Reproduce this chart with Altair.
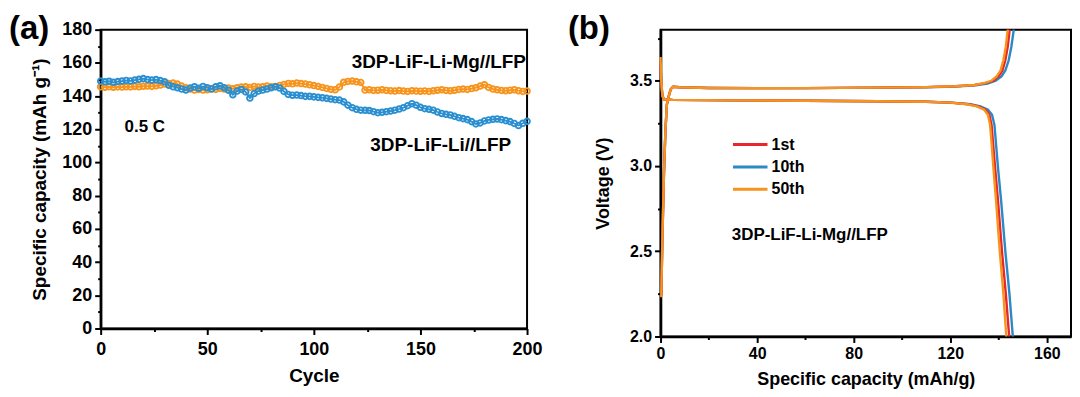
import altair as alt
import pandas as pd

# ---------------- panel (a) data ----------------
cycles = list(range(0, 201, 2))
cap_li = [
    149.0, 148.6, 148.9, 148.3, 148.7, 149.0, 149.4, 149.1, 149.6, 150.1,
    150.5, 149.9, 149.6, 149.9, 149.3, 148.6, 146.5, 145.6, 145.0, 144.2,
    143.6, 144.8, 145.6, 144.7, 145.8, 145.0, 144.2, 145.6, 146.2, 145.0,
    143.5, 140.8, 143.0, 144.0, 142.5, 138.8, 141.5, 143.0, 143.6, 144.2,
    145.0, 145.6, 144.8, 142.8, 141.0, 140.5, 140.6, 140.3, 139.8, 139.8,
    139.5, 139.2, 139.0, 138.6, 138.2, 137.8, 137.6, 136.5, 134.5, 133.0,
    132.0, 131.5, 131.4, 131.3, 130.6, 130.0, 130.2, 130.6, 131.0, 131.5,
    132.2, 133.0, 134.2, 135.4, 134.5, 133.2, 132.4, 132.0, 131.5, 130.4,
    129.5, 129.0, 128.6, 127.8, 127.0, 126.4, 125.8, 124.6, 123.2, 123.8,
    125.0, 125.6, 126.0, 126.2, 125.8, 125.2, 124.6, 123.5, 122.2, 123.6,
    124.8,
]
cap_mg = [
    145.6, 145.3, 145.6, 145.3, 145.5, 145.4, 145.6, 145.5, 145.8, 145.6,
    145.9, 146.0, 145.8, 146.2, 146.6, 147.2, 147.6, 147.8, 147.2, 146.0,
    145.0, 144.2, 143.6, 144.0, 143.6, 143.8, 144.4, 144.0, 144.6, 144.2,
    144.8, 144.4, 145.0, 145.4, 145.6, 145.2, 145.8, 145.4, 145.6, 146.0,
    145.6, 145.8, 146.4, 147.0, 147.6, 147.4, 147.8, 147.5, 147.2, 146.8,
    146.3, 145.8, 145.2, 144.6, 144.0, 143.8, 145.5, 148.3, 148.8, 149.0,
    148.6, 148.2, 143.6, 143.8, 143.4, 143.5, 143.8, 143.4, 143.2, 143.0,
    143.3, 143.0, 142.8, 143.2, 143.0, 142.9, 143.1, 142.8, 143.2, 143.5,
    143.8, 143.4, 143.2, 143.5, 144.0, 144.2, 144.0, 144.5, 145.0, 146.0,
    146.8, 145.2, 144.2, 143.8, 143.4, 143.2, 143.5, 143.8, 143.2, 142.8,
    143.0,
]
series_a = ["3DP-LiF-Li//LFP", "3DP-LiF-Li-Mg//LFP"]
colors_a = ["#2a8fd0", "#f7941d"]
notes_a = ["3DP-LiF-Li-Mg//LFP", "0.5 C", "3DP-LiF-Li//LFP"]
xa_major = [0, 50, 100, 150, 200]
xa_minor = [25, 75, 125, 175]
ya_major = list(range(0, 181, 20))
ya_minor = list(range(10, 180, 20))

# ---------------- panel (b) data ----------------
legend_b = ["1st", "10th", "50th"]
colors_b = ["#e8262b", "#2a8ac6", "#f7941d"]
note_b = "3DP-LiF-Li-Mg//LFP"
xb_major = [0, 40, 80, 120, 160]
xb_minor = [20, 60, 100, 140]
yb_major = [2.0, 2.5, 3.0, 3.5]
yb_minor = [2.25, 2.75, 3.25, 3.75]

chg_cap_1st = [0.3, 0.8, 1.4, 2.0, 2.6, 3.4, 4.2, 5.2, 8, 20, 40, 60, 90, 110, 122, 130, 134.6, 137.8, 140.0, 141.6, 142.8, 143.8, 144.6]
chg_v_1st = [2.24, 2.6, 2.95, 3.2, 3.36, 3.41, 3.45, 3.465, 3.462, 3.458, 3.457, 3.457, 3.46, 3.463, 3.468, 3.475, 3.486, 3.50, 3.525, 3.56, 3.62, 3.70, 3.80]
dis_cap_1st = [0, 0.3, 0.8, 1.5, 5, 30, 60, 90, 110, 120, 127.6, 131.6, 134.6, 136.2, 137.1, 137.8, 138.5, 139.8, 141.4, 143.0, 144.4]
dis_v_1st = [3.60, 3.48, 3.41, 3.39, 3.388, 3.385, 3.383, 3.38, 3.377, 3.372, 3.362, 3.35, 3.33, 3.30, 3.24, 3.12, 3.0, 2.79, 2.5, 2.25, 2.0]

chg_cap_10th = [0.3, 0.8, 1.4, 2.0, 2.6, 3.4, 4.2, 5.2, 8, 20, 40, 60, 90, 110, 122, 130.5, 135.4, 138.8, 141.2, 142.8, 144.2, 145.3, 146.3]
chg_v_10th = [2.24, 2.6, 2.95, 3.2, 3.36, 3.41, 3.45, 3.465, 3.462, 3.458, 3.457, 3.457, 3.46, 3.462, 3.466, 3.473, 3.484, 3.50, 3.525, 3.56, 3.62, 3.70, 3.80]
dis_cap_10th = [0, 0.3, 0.8, 1.5, 5, 30, 60, 90, 110, 120.5, 128.4, 132.5, 135.6, 137.3, 138.3, 139.0, 139.7, 141.1, 142.8, 144.5, 145.9]
dis_v_10th = [3.60, 3.48, 3.41, 3.39, 3.388, 3.385, 3.383, 3.38, 3.377, 3.372, 3.362, 3.35, 3.33, 3.30, 3.24, 3.12, 3.0, 2.79, 2.5, 2.25, 2.0]

chg_cap_50th = [0.3, 0.8, 1.4, 2.0, 2.6, 3.4, 4.2, 5.2, 8, 20, 40, 60, 90, 110, 122, 130, 134, 137, 139.2, 140.8, 142, 143, 143.8]
chg_v_50th = [2.23, 2.6, 2.95, 3.2, 3.36, 3.41, 3.45, 3.465, 3.462, 3.458, 3.456, 3.457, 3.46, 3.463, 3.468, 3.475, 3.486, 3.50, 3.525, 3.56, 3.62, 3.70, 3.80]
dis_cap_50th = [0, 0.3, 0.8, 1.5, 5, 30, 60, 90, 110, 120, 127, 131, 134, 135.6, 136.5, 137.2, 137.8, 139.0, 140.5, 142.0, 143.2]
dis_v_50th = [3.64, 3.50, 3.41, 3.39, 3.388, 3.385, 3.383, 3.38, 3.377, 3.372, 3.362, 3.35, 3.33, 3.30, 3.24, 3.12, 3.0, 2.79, 2.5, 2.25, 2.0]

FONT = "Liberation Sans"

# ---------------- build tables ----------------
df_a = pd.concat([
    pd.DataFrame({"cycle": cycles, "cap": cap_li, "series": series_a[0]}),
    pd.DataFrame({"cycle": cycles, "cap": cap_mg, "series": series_a[1]}),
])

curves = {
    "1st": (chg_cap_1st, chg_v_1st, dis_cap_1st, dis_v_1st),
    "10th": (chg_cap_10th, chg_v_10th, dis_cap_10th, dis_v_10th),
    "50th": (chg_cap_50th, chg_v_50th, dis_cap_50th, dis_v_50th),
}
rows = []
for name, (cc, cv, dc, dv) in curves.items():
    for i, (c, v) in enumerate(zip(cc, cv)):
        rows.append({"cyc": name, "seg": name + "-chg", "i": i, "cap": c, "v": v})
    for i, (c, v) in enumerate(zip(dc, dv)):
        rows.append({"cyc": name, "seg": name + "-dis", "i": i, "cap": c, "v": v})
df_b = pd.DataFrame(rows)


def major_axis(values, orient, fmt=None, **kw):
    d = dict(
        values=values, orient=orient,
        labelOverlap=False, labelFlush=False,
        tickSize=6, domainWidth=2.5, domainColor="black", tickColor="black", tickWidth=2,
        labelFont=FONT, labelFontWeight="bold", labelColor="black",
        titleFont=FONT, titleFontWeight="bold", titleColor="black",
        grid=False,
    )
    if fmt:
        d["format"] = fmt
    d.update(kw)
    return alt.Axis(**d)


def minor_axis(values, orient):
    return alt.Axis(values=values, orient=orient, labels=False, domain=False, grid=False,
                    tickSize=3, tickWidth=2, tickColor="black", title=None)


# ---------------- panel (a) ----------------
sx_a = alt.Scale(domain=[0, 200], nice=False, zero=False)
sy_a = alt.Scale(domain=[0, 180], nice=False)
col_a = alt.Color("series:N", scale=alt.Scale(domain=series_a, range=colors_a), legend=None)

xa_main = alt.X("cycle:Q", scale=sx_a,
                axis=major_axis(xa_major, "bottom", title="Cycle", labelFontSize=18,
                                labelPadding=6, titleFontSize=19, titlePadding=8))
ya_main = alt.Y("cap:Q", scale=sy_a,
                axis=major_axis(ya_major, "left", title="Specific capacity (mAh g⁻¹)", labelFontSize=18,
                                labelPadding=3, titleFontSize=19, titlePadding=12))
xa_none = alt.X("cycle:Q", scale=sx_a, axis=None)
ya_none = alt.Y("cap:Q", scale=sy_a, axis=None)

layers_a = []
first = True
for s in [series_a[1], series_a[0]]:
    base = alt.Chart(df_a).transform_filter(alt.datum.series == s)
    if first:
        layers_a.append(base.mark_line(strokeWidth=1.8).encode(x=xa_main, y=ya_main, color=col_a))
        first = False
    else:
        layers_a.append(base.mark_line(strokeWidth=1.8).encode(x=xa_none, y=ya_none, color=col_a))
    layers_a.append(base.mark_point(shape="circle", filled=False, size=32, strokeWidth=1.9, opacity=1)
                    .encode(x=xa_none, y=ya_none, color=col_a))

# minor ticks (no labels)
layers_a.append(
    alt.Chart(df_a).mark_point(opacity=0).encode(
        x=alt.X("cycle:Q", scale=sx_a, axis=minor_axis(xa_minor, "bottom")),
        y=alt.Y("cap:Q", scale=sy_a, axis=minor_axis(ya_minor, "left")),
    )
)

note_pos = [(199.5, 160.5, "right", 19), (11.2, 121.5, "left", 17), (192.5, 110.5, "right", 19)]
for label, (xv, yv, al, fs) in zip(notes_a, note_pos):
    layers_a.append(
        alt.Chart(pd.DataFrame({"t": [label]}))
        .mark_text(align=al, baseline="middle", font=FONT, fontWeight="bold", fontSize=fs, color="black")
        .encode(x=alt.XDatum(xv, scale=sx_a, axis=None), y=alt.YDatum(yv, scale=sy_a, axis=None), text="t:N")
    )
layers_a.append(
    alt.Chart(pd.DataFrame({"t": ["(a)"]}))
    .mark_text(align="left", baseline="alphabetic", font=FONT, fontWeight="bold", fontSize=33, color="black")
    .encode(x=alt.value(-92), y=alt.value(9), text="t:N")
)
panel_a = (alt.layer(*layers_a).properties(width=428, height=300)
           .resolve_axis(x="independent", y="independent"))

# ---------------- panel (b) ----------------
sx_b = alt.Scale(domain=[0, 170], nice=False, zero=False)
sy_b = alt.Scale(domain=[2.0, 3.8], nice=False, zero=False)
col_b = alt.Color("cyc:N", scale=alt.Scale(domain=legend_b, range=colors_b), legend=None)

xb_main = alt.X("cap:Q", scale=sx_b,
                axis=major_axis(xb_major, "bottom", title="Specific capacity (mAh/g)", labelFontSize=16,
                                labelPadding=3, titleFontSize=18, titlePadding=9))
yb_main = alt.Y("v:Q", scale=sy_b,
                axis=major_axis(yb_major, "left", fmt=".1f", title="Voltage (V)", labelFontSize=16,
                                labelPadding=3, titleFontSize=18, titlePadding=17))
xb_none = alt.X("cap:Q", scale=sx_b, axis=None)
yb_none = alt.Y("v:Q", scale=sy_b, axis=None)

layers_b = []
for k, name in enumerate(["10th", "1st", "50th"]):
    enc = dict(x=xb_main, y=yb_main) if k == 0 else dict(x=xb_none, y=yb_none)
    layers_b.append(
        alt.Chart(df_b).transform_filter(alt.datum.cyc == name)
        .mark_line(strokeWidth=2.4)
        .encode(color=col_b, detail="seg:N", order="i:Q", **enc)
    )

layers_b.append(
    alt.Chart(df_b).mark_point(opacity=0).encode(
        x=alt.X("cap:Q", scale=sx_b, axis=minor_axis(xb_minor, "bottom")),
        y=alt.Y("v:Q", scale=sy_b, axis=minor_axis(yb_minor, "left")),
    )
)

legend_v = [3.126 - 0.1315 * k for k in range(len(legend_b))]
df_leg = pd.DataFrame({"cyc": legend_b, "v": legend_v})
layers_b.append(
    alt.Chart(df_leg).mark_rule(strokeWidth=3)
    .encode(x=alt.XDatum(30.0, scale=sx_b, axis=None), x2=alt.X2Datum(44.3),
            y=alt.Y("v:Q", scale=sy_b, axis=None), color=col_b)
)
layers_b.append(
    alt.Chart(df_leg).mark_text(align="left", baseline="middle", font=FONT, fontWeight="bold",
                                fontSize=16, color="black")
    .encode(x=alt.XDatum(46.0, scale=sx_b, axis=None), y=alt.Y("v:Q", scale=sy_b, axis=None), text="cyc:N")
)
layers_b.append(
    alt.Chart(pd.DataFrame({"t": [note_b]}))
    .mark_text(align="left", baseline="middle", font=FONT, fontWeight="bold", fontSize=17, color="black")
    .encode(x=alt.XDatum(29.5, scale=sx_b, axis=None), y=alt.YDatum(2.598, scale=sy_b, axis=None), text="t:N")
)
layers_b.append(
    alt.Chart(pd.DataFrame({"t": ["(b)"]}))
    .mark_text(align="left", baseline="alphabetic", font=FONT, fontWeight="bold", fontSize=33, color="black")
    .encode(x=alt.value(-93), y=alt.value(9), text="t:N")
)
panel_b = (alt.layer(*layers_b).properties(width=412, height=308)
           .resolve_axis(x="independent", y="independent"))

chart = (
    alt.hconcat(panel_a, panel_b, spacing=23)
    .resolve_scale(color="independent")
    .properties(padding={"left": 0, "top": 3, "right": 0, "bottom": 0}, background="white")
    .configure_view(stroke="black", strokeWidth=2)
)

chart.save("out.html", embed_options={"renderer": "svg", "actions": False})
